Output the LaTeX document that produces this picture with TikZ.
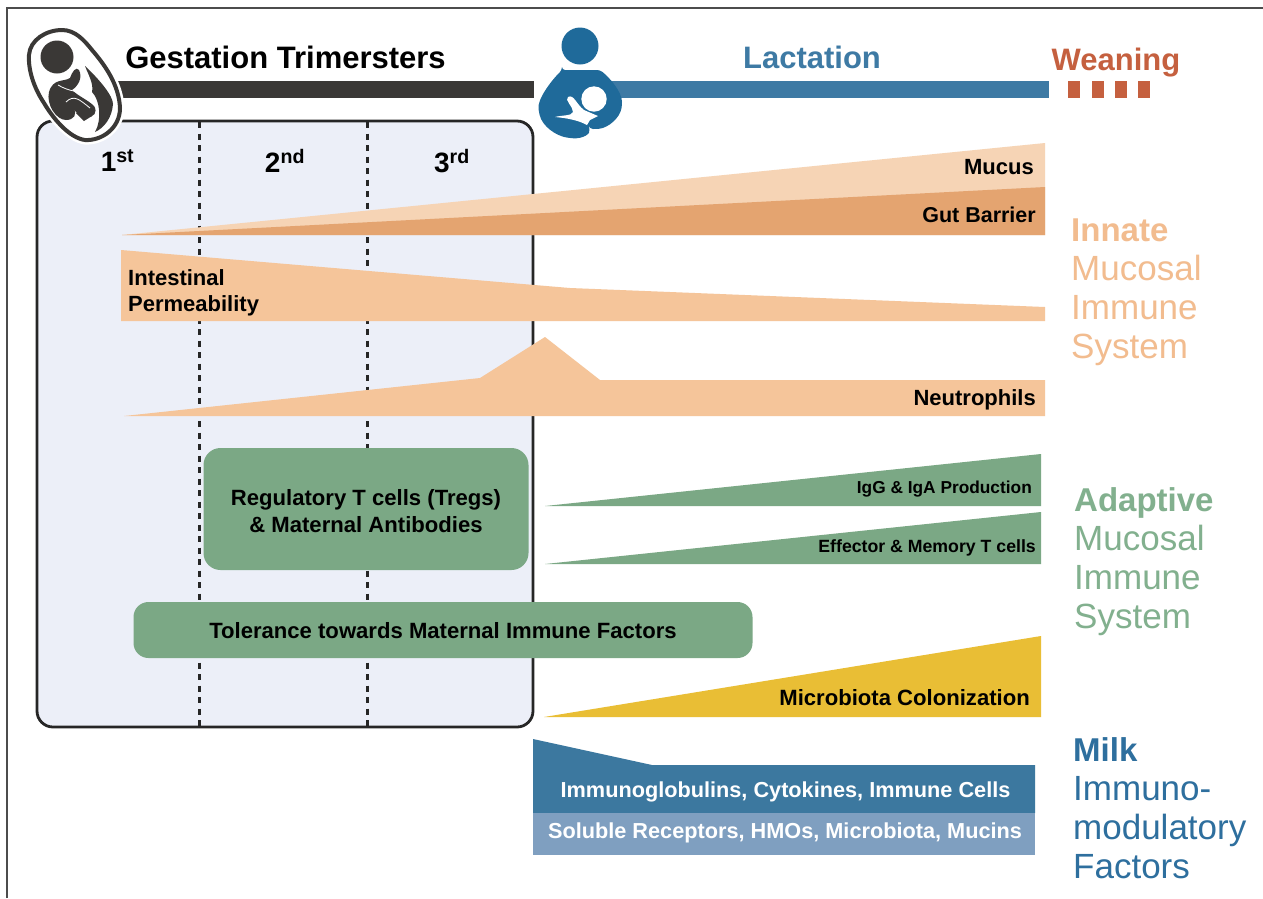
\documentclass[tikz,border=0pt]{standalone}
\usepackage{fontspec}
\setmainfont{Liberation Sans}
\usepackage{tikz}
\usetikzlibrary{calc}
\usetikzlibrary{positioning}
\newcommand{\sidehdfont}{\fontsize{33}{39}\selectfont\bfseries}
\definecolor{darkbar}{HTML}{3A3836}
\definecolor{bluebar}{HTML}{3E7AA4}
\definecolor{babyblue}{HTML}{1F6A9A}
\definecolor{weancol}{HTML}{C5603F}
\definecolor{panelcol}{HTML}{ECEFF8}
\definecolor{peach}{HTML}{F5C59A}
\definecolor{peachlight}{HTML}{F6D4B5}
\definecolor{peachdark}{HTML}{E4A470}
\definecolor{peachtext}{HTML}{F2BC8F}
\definecolor{sage}{HTML}{7BA885}
\definecolor{sagetext}{HTML}{82B08E}
\definecolor{gold}{HTML}{E9BE35}
\definecolor{milktop}{HTML}{3C789F}
\definecolor{milklow}{HTML}{7F9FC0}
\definecolor{milktext}{HTML}{2E6F9E}
\tikzset{
	lab/.style={font=\fontsize{#1}{#1}\selectfont\bfseries, text=black, inner sep=0pt},
	whitelab/.style={font=\fontsize{#1}{#1}\selectfont\bfseries, text=white, inner sep=0pt},
	trimester/.style={font=\fontsize{28}{28}\selectfont\bfseries, inner sep=0pt},
	sidelab/.style={font=\fontsize{35}{39}\selectfont, align=left, anchor=north west, inner sep=0pt},
	divider/.style={line width=3pt, dash pattern=on 6pt off 5.5pt, black!85},
	greenbox/.style={fill=sage, inner sep=0pt, draw=none}
}
\begin{document}
\begin{tikzpicture}[x=1pt, y=-1pt]
		\useasboundingbox (0,0) rectangle (1263,898);
		\fill[white] (0,0) rectangle (1263,898);

		% outer frame
		\coordinate (FA) at (7,898);
		\coordinate (FB) at (7,8);
		\coordinate (FC) at (1263,8);
		\draw[line width=1.6pt, black!70] (FA) -- (FB) -- (FC);

		% timeline bars
		\fill[darkbar] (105,81) rectangle (534,98);
		\fill[bluebar] (600,81) rectangle (1049,98);
		\foreach \x in {1068,1092,1115,1138}
			\fill[weancol] (\x,81) rectangle +(11.5,17);

		% gestation panel
		\fill[panelcol, rounded corners=16pt] (37,121) rectangle (533,727);
		\draw[divider] (199,122) -- (199,726);
		\draw[divider] (367,122) -- (367,726);
		\draw[line width=2.8pt, black!85, rounded corners=16pt] (37,121) rectangle (533,727);

		% innate wedges
		\coordinate (W) at (122,235);
		\fill[peachlight] (W) -- (1045,143) -- (1045,235) -- cycle;
		\fill[peachdark] (W) -- (1045,187) -- (1045,235) -- cycle;
		\fill[peach] (121,250) -- (570,288) -- (1045,307) -- (1045,321) -- (121,321) -- cycle;
		\fill[peach] (124,416) -- (480,378) -- (545,337) -- (600,380) -- (1045,380) -- (1045,416) -- cycle;

		% adaptive wedges
		\fill[sage] (545,506) -- (1041,454) -- (1041,506) -- cycle;
		\fill[sage] (545,564) -- (1041,512) -- (1041,564) -- cycle;
		\node[greenbox, rounded corners=17pt, minimum width=325pt, minimum height=122pt] (tregs) at (366,509) {};
		\node[greenbox, rounded corners=15pt, minimum width=619pt, minimum height=56pt] (tolerance) at (443,630) {};

		% microbiota
		\fill[gold] (544,717) -- (1041,636) -- (1041,717) -- cycle;

		% milk factors
		\fill[milktop] (533,739) -- (652,765) -- (1035,765) -- (1035,813) -- (533,813) -- cycle;
		\fill[milklow] (533,813) rectangle (1035,855);

		% fetus icon
		\begin{scope}
			\path[fill=white, draw=white, line width=9pt] (62,30)
				.. controls (75,30) and (84,40) .. (92,50)
				.. controls (104,64) and (119,84) .. (120,108)
				.. controls (120,128) and (102,141) .. (85,140)
				.. controls (70,138) and (54,120) .. (44,103)
				.. controls (34,88) and (28,70) .. (29,55)
				.. controls (30,40) and (46,30) .. (62,30) -- cycle;
			\path[fill=white, draw=darkbar, line width=4pt] (62,30)
				.. controls (75,30) and (84,40) .. (92,50)
				.. controls (104,64) and (119,84) .. (120,108)
				.. controls (120,128) and (102,141) .. (85,140)
				.. controls (70,138) and (54,120) .. (44,103)
				.. controls (34,88) and (28,70) .. (29,55)
				.. controls (30,40) and (46,30) .. (62,30) -- cycle;
			\fill[darkbar] (57,57) circle (16.5);
			\fill[darkbar] (49,92) .. controls (53,78) and (64,82) .. (70,78)
				.. controls (72,72) and (76,66) .. (79,70)
				.. controls (83,78) and (78,86) .. (72,90)
				.. controls (78,96) and (88,100) .. (94,106)
				.. controls (98,112) and (94,118) .. (86,117)
				.. controls (80,118) and (76,112) .. (73,108)
				.. controls (78,114) and (74,120) .. (66,120)
				.. controls (56,120) and (46,104) .. (49,92) -- cycle;
			\fill[darkbar] (76,113) -- (84,108) -- (92,116) -- (84,121) -- cycle;
			\draw[white, line width=0.8pt] (58,85) .. controls (70,92) and (80,92) .. (88,92);
			\draw[white, line width=0.8pt] (66,102) .. controls (74,94) and (80,100) .. (90,108);
			\fill[darkbar] (85,66) .. controls (100,80) and (113,96) .. (113,104)
				.. controls (112,118) and (104,128) .. (95,132)
				.. controls (102,120) and (100,100) .. (92,92)
				.. controls (94,84) and (88,74) .. (85,66) -- cycle;
		\end{scope}

		% nursing icon
		\begin{scope}
			\fill[babyblue] (580,46) circle (18.5);
			\fill[babyblue, rounded corners=3pt] (562,70) -- (600,70)
				.. controls (610,78) and (622,92) .. (622,105)
				.. controls (620,118) and (608,128) .. (596,129)
				.. controls (588,129) and (588,122) .. (590,120)
				-- (588,126)
				.. controls (592,134) and (582,139) .. (570,138)
				.. controls (556,136) and (542,126) .. (539,112)
				.. controls (537,100) and (550,82) .. (562,70) -- cycle;
			\fill[white] (555,117) .. controls (562,115) and (572,116) .. (573,112)
				.. controls (573,106) and (564,100) .. (568,97)
				.. controls (574,94) and (576,104) .. (584,110)
				-- (598,116) -- (590,120) -- (587,125)
				.. controls (578,120) and (566,118) .. (555,117) -- cycle;
			\fill[white] (594,99) circle (12.7);
		\end{scope}

		% header labels
		\node[lab=31] (gestation) at (285.5,57) {Gestation Trimersters};
		\node[font=\fontsize{31}{31}\selectfont\bfseries, text=bluebar, inner sep=0pt] (lactation) at (812,57) {Lactation};
		\node[font=\fontsize{31}{31}\selectfont\bfseries, text=weancol, inner sep=0pt] (weaning) at (1116,63) {Weaning};

		\node[trimester] (first) at (117.5,161) {1\textsuperscript{st}};
		\node[trimester] (second) at (285,161) {2\textsuperscript{nd}};
		\node[trimester] (third) at (452,161) {3\textsuperscript{rd}};

		% wedge labels
		\node[lab=22, anchor=east] (mucus) at (1034,167) {Mucus};
		\node[lab=21.5, anchor=east] (gut) at (1036,215) {Gut Barrier};
		\node[lab=22, anchor=west] (perm1) at (128,278) {Intestinal};
		\node[lab=22, anchor=west] (perm2) at (128,306) {Permeability};
		\node[lab=22, anchor=east] (neutro) at (1036,400) {Neutrophils};
		\node[lab=17.3, anchor=east] (igg) at (1032,489) {IgG \& IgA Production};
		\node[lab=17.7, anchor=east] (effector) at (1036,548) {Effector \& Memory T cells};
		\node[lab=22.1, align=center] at ($(tregs)+(0,2)$) {Regulatory T cells (Tregs)\\[5.5pt]\& Maternal Antibodies};
		\node[lab=22.1] at ($(tolerance)+(0,1)$) {Tolerance towards Maternal Immune Factors};
		\node[lab=22.1, anchor=east] (microbiota) at (1030,698) {Microbiota Colonization};
		\node[whitelab=21.7] (igs) at (785.5,792) {Immunoglobulins, Cytokines, Immune Cells};
		\node[whitelab=21.7] (receptors) at (785,833) {Soluble Receptors, HMOs, Microbiota, Mucins};

		% side labels
		\node[sidelab, text=peachtext] (innate) at (1071,219) {{\sidehdfont Innate}\\Mucosal\\Immune\\System};
		\node[sidelab, text=sagetext] (adaptive) at (1074,487) {{\sidehdfont Adaptive}\\Mucosal\\Immune\\System};
		\node[sidelab, text=milktext] (milk) at (1073,737) {{\sidehdfont Milk}\\Immuno-\\modulatory\\Factors};
    \end{tikzpicture}
\end{document}
